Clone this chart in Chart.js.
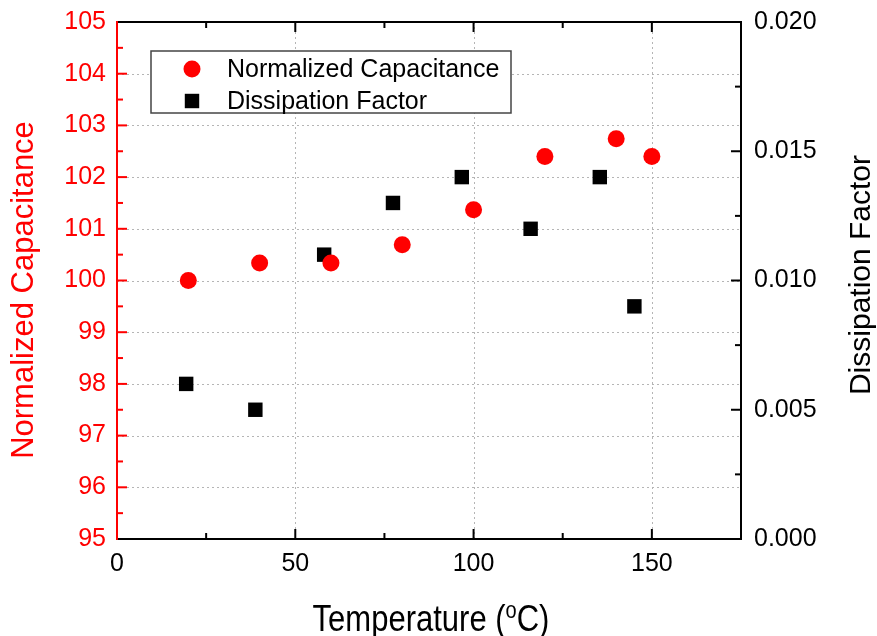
<!DOCTYPE html>
<html>
<head>
<meta charset="utf-8">
<script src="https://cdn.jsdelivr.net/npm/chart.js@4.4.0/dist/chart.umd.min.js"></script>
<style>
  html, body { margin: 0; padding: 0; background: #fff; }
  #wrap { width: 877px; height: 636px; }
</style>
</head>
<body>
<div id="wrap"><canvas id="chart"></canvas></div>
<script>
var FONT = "'Liberation Sans', Arial, sans-serif";

// data
var capTemps = [20, 40, 60, 80, 100, 120, 140, 150];
var capValues = [100.0, 100.34, 100.34, 100.69, 101.37, 102.40, 102.74, 102.40];
var dfTemps = [19.4, 38.8, 58.1, 77.4, 96.7, 116.0, 135.4, 145.1];
var dfValues = [0.006, 0.005, 0.011, 0.013, 0.014, 0.012, 0.014, 0.009];

var capLabel = 'Normalized Capacitance';
var dfLabel = 'Dissipation Factor';
var xTitleParts = ['Temperature (', 'o', 'C)'];

function toPoints(xs, ys) {
    return xs.map(function (x, i) { return { x: x, y: ys[i] }; });
}

function majorsOf(scale, step) {
    var out = [];
    scale.ticks.forEach(function (t) {
        var r = t.value / step;
        if (Math.abs(r - Math.round(r)) < 1e-6) out.push(t.value);
    });
    return out;
}

function minorsOf(scale, step) {
    var out = [];
    majorsOf(scale, step).forEach(function (v) {
        var m = v + step / 2;
        if (m <= scale.max + 1e-9) out.push(m);
    });
    return out;
}

// grid, inward tick marks and the box round the plot
var framePlugin = {
    id: 'frame',
    beforeDatasetsDraw: function (chart) {
        var ctx = chart.ctx, a = chart.chartArea, s = chart.scales;
        ctx.save();
        ctx.strokeStyle = '#b5b5b5';
        ctx.lineWidth = 1;
        ctx.setLineDash([2, 3]);
        majorsOf(s.x, 50).forEach(function (v) {
            var px = Math.round(s.x.getPixelForValue(v)) + 0.5;
            if (px < a.left + 3 || px > a.right - 3) return;
            ctx.beginPath(); ctx.moveTo(px, a.top); ctx.lineTo(px, a.bottom); ctx.stroke();
        });
        majorsOf(s.y, 1).forEach(function (v) {
            var py = Math.round(s.y.getPixelForValue(v)) + 0.5;
            if (py < a.top + 3 || py > a.bottom - 3) return;
            ctx.beginPath(); ctx.moveTo(a.left, py); ctx.lineTo(a.right, py); ctx.stroke();
        });
        ctx.restore();
    },
    afterDraw: function (chart) {
        var ctx = chart.ctx, a = chart.chartArea, s = chart.scales;
        ctx.save();
        ctx.lineWidth = 2;

        function tick(x1, y1, x2, y2, color) {
            ctx.strokeStyle = color;
            ctx.beginPath(); ctx.moveTo(x1, y1); ctx.lineTo(x2, y2); ctx.stroke();
        }

        // x ticks, bottom and top
        majorsOf(s.x, 50).forEach(function (v) {
            var px = s.x.getPixelForValue(v);
            tick(px, a.bottom, px, a.bottom - 10, '#000');
            tick(px, a.top, px, a.top + 10, '#000');
        });
        minorsOf(s.x, 50).forEach(function (v) {
            var px = s.x.getPixelForValue(v);
            tick(px, a.bottom, px, a.bottom - 6, '#000');
            tick(px, a.top, px, a.top + 6, '#000');
        });
        // left axis ticks (red)
        majorsOf(s.y, 1).forEach(function (v) {
            var py = s.y.getPixelForValue(v);
            tick(a.left, py, a.left + 10, py, '#ff0000');
        });
        minorsOf(s.y, 1).forEach(function (v) {
            var py = s.y.getPixelForValue(v);
            tick(a.left, py, a.left + 6, py, '#ff0000');
        });
        // right axis ticks
        majorsOf(s.y1, 0.005).forEach(function (v) {
            var py = s.y1.getPixelForValue(v);
            tick(a.right, py, a.right - 10, py, '#000');
        });
        minorsOf(s.y1, 0.005).forEach(function (v) {
            var py = s.y1.getPixelForValue(v);
            tick(a.right, py, a.right - 6, py, '#000');
        });

        // box
        tick(a.left, a.top, a.right + 1, a.top, '#000');
        tick(a.right, a.top, a.right, a.bottom + 1, '#000');
        tick(a.left, a.bottom, a.right + 1, a.bottom, '#000');
        tick(a.left, a.top - 1, a.left, a.bottom + 1, '#ff0000');

        // axis titles
        ctx.textBaseline = 'alphabetic';
        ctx.textAlign = 'center';

        ctx.save();
        ctx.font = '31px ' + FONT;
        ctx.translate(33, 290);
        ctx.rotate(-Math.PI / 2);
        ctx.fillStyle = '#ff0000';
        ctx.fillText(capLabel, 0, 0);
        ctx.restore();

        ctx.save();
        ctx.font = '30px ' + FONT;
        ctx.translate(870, 275);
        ctx.rotate(-Math.PI / 2);
        ctx.fillStyle = '#000';
        ctx.fillText(dfLabel, 0, 0);
        ctx.restore();

        // x title with superscript o
        ctx.save();
        ctx.fillStyle = '#000';
        ctx.textAlign = 'left';
        var big = '31px ' + FONT, small = '20px ' + FONT;
        ctx.font = big;
        var w0 = ctx.measureText(xTitleParts[0]).width;
        var w2 = ctx.measureText(xTitleParts[2]).width;
        ctx.font = small;
        var w1 = ctx.measureText(xTitleParts[1]).width;
        var x0 = 431 - (w0 + w1 + w2) / 2;
        ctx.translate(0, 631);
        ctx.scale(1, 1.22);
        ctx.font = big;
        ctx.fillText(xTitleParts[0], x0, 0);
        ctx.font = small;
        ctx.fillText(xTitleParts[1], x0 + w0, -11);
        ctx.font = big;
        ctx.fillText(xTitleParts[2], x0 + w0 + w1, 0);
        ctx.restore();

        ctx.restore();
    }
};

// legend box drawn inside the plot
var legendPlugin = {
    id: 'boxLegend',
    afterDraw: function (chart) {
        var ctx = chart.ctx;
        var bx = 151, by = 51, bw = 360, bh = 62;
        ctx.save();
        ctx.fillStyle = '#fff';
        ctx.fillRect(bx, by, bw, bh);
        ctx.strokeStyle = '#444';
        ctx.lineWidth = 1.5;
        ctx.strokeRect(bx, by, bw, bh);
        ctx.font = '25px ' + FONT;
        ctx.textAlign = 'left';
        ctx.textBaseline = 'alphabetic';
        var rows = [69, 101];
        chart.data.datasets.forEach(function (ds, i) {
            ctx.fillStyle = ds.backgroundColor;
            ctx.strokeStyle = ds.backgroundColor;
            Chart.helpers.drawPoint(ctx, {
                pointStyle: ds.pointStyle, radius: ds.pointRadius, borderWidth: 0, rotation: 0
            }, 192, rows[i]);
            ctx.fillStyle = '#000';
            ctx.fillText(ds.label, 227, rows[i] + 8);
        });
        ctx.restore();
    }
};

var chart = new Chart(document.getElementById('chart'), {
    type: 'scatter',
    data: {
        datasets: [{
            label: capLabel,
            data: toPoints(capTemps, capValues),
            yAxisID: 'y',
            pointStyle: 'circle',
            pointRadius: 8.5,
            pointBorderWidth: 0,
            backgroundColor: '#ff0000',
            borderColor: '#ff0000'
        }, {
            label: dfLabel,
            data: toPoints(dfTemps, dfValues),
            yAxisID: 'y1',
            pointStyle: 'rect',
            pointRadius: 10.2,
            pointBorderWidth: 0,
            backgroundColor: '#000000',
            borderColor: '#000000'
        }]
    },
    options: {
        responsive: true,
        maintainAspectRatio: false,
        animation: false,
        layout: { padding: { top: 22, left: 0, right: 0, bottom: 0 } },
        plugins: { legend: { display: false }, tooltip: { enabled: false } },
        scales: {
            x: {
                type: 'linear', min: 0, max: 175,
                grid: { display: false, drawTicks: false },
                border: { display: false },
                ticks: {
                    stepSize: 50, autoSkip: false, maxRotation: 0, padding: 10,
                    color: '#000', font: { family: FONT, size: 25 },
                    callback: function (v) { return v % 50 === 0 ? v : ''; }
                },
                afterFit: function (s) { s.height = 97; s.paddingLeft = 0; s.paddingRight = 0; }
            },
            y: {
                type: 'linear', position: 'left', min: 95, max: 105,
                grid: { display: false, drawTicks: false },
                border: { display: false },
                ticks: {
                    stepSize: 1, padding: 11, color: '#ff0000',
                    font: { family: FONT, size: 25 }
                },
                afterFit: function (s) { s.width = 117; s.paddingTop = 0; s.paddingBottom = 0; }
            },
            y1: {
                type: 'linear', position: 'right', min: 0, max: 0.02,
                grid: { display: false, drawTicks: false },
                border: { display: false },
                ticks: {
                    stepSize: 0.005, padding: 13, color: '#000',
                    font: { family: FONT, size: 25 },
                    callback: function (v) { return Number(v).toFixed(3); }
                },
                afterFit: function (s) { s.width = 136; s.paddingTop = 0; s.paddingBottom = 0; }
            }
        }
    },
    plugins: [framePlugin, legendPlugin]
});
</script>
</body>
</html>
